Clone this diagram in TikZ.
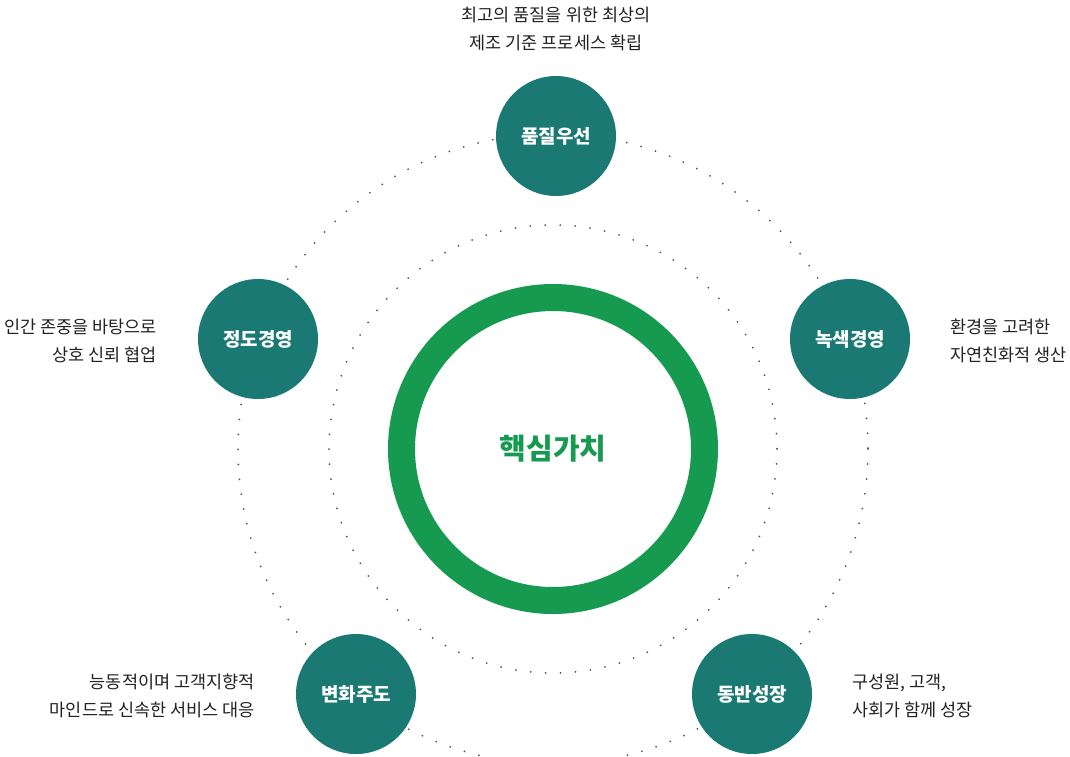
\documentclass[tikz,border=0pt]{standalone}
\usepackage{fontspec}
\setmainfont{Noto Sans CJK KR}
\definecolor{teal}{HTML}{1A7A73}
\definecolor{ringgreen}{HTML}{169A50}
\definecolor{dotgray}{HTML}{555555}
\definecolor{txtgray}{HTML}{222222}
\begin{document}
\begin{tikzpicture}[x=1pt,y=-1pt,line cap=round,
    value/.style={circle,fill=teal,minimum size=120pt,inner sep=0pt,text=white,
        font=\fontsize{19}{22}\selectfont\bfseries},
    desc/.style={text=txtgray,font=\fontsize{17.5}{28}\selectfont,inner sep=0pt},
    dots/.style={dotgray,line width=2pt,dash pattern=on 0pt off #1}]
    \useasboundingbox (0,0) rectangle (1070,756);
    \coordinate (center) at (553,449);
    % dotted rings
    \draw[dots=14.99pt] (center) circle (315);
    \draw[dots=14.97pt] (center) circle (224);
    % green ring
    \draw[ringgreen,line width=27pt] (center) circle (151.5);
    \node[text=ringgreen,font=\fontsize{29}{32}\selectfont\bfseries] (core) at (center) {핵심가치};
    % values
    \node[value] (quality) at (556,136) {품질우선};
    \node[value] (green) at (850,339) {녹색경영};
    \node[value] (ethics) at (258,339) {정도경영};
    \node[value] (change) at (356,694) {변화주도};
    \node[value] (growth) at (752,694) {동반성장};
    % descriptions
    \node[desc,align=center] (quality-txt) at (556,29) {최고의 품질을 위한 최상의\\제조 기준 프로세스 확립};
    \node[desc,align=left,anchor=west] (green-txt) at (950,341) {환경을 고려한\\자연친화적 생산};
    \node[desc,align=right,anchor=east] (ethics-txt) at (157,341) {인간 존중을 바탕으로\\상호 신뢰 협업};
    \node[desc,align=right,anchor=east] (change-txt) at (255,696) {능동적이며 고객지향적\\마인드로 신속한 서비스 대응};
    \node[desc,align=left,anchor=west] (growth-txt) at (852,696) {구성원, 고객,\\사회가 함께 성장};
\end{tikzpicture}
\end{document}
